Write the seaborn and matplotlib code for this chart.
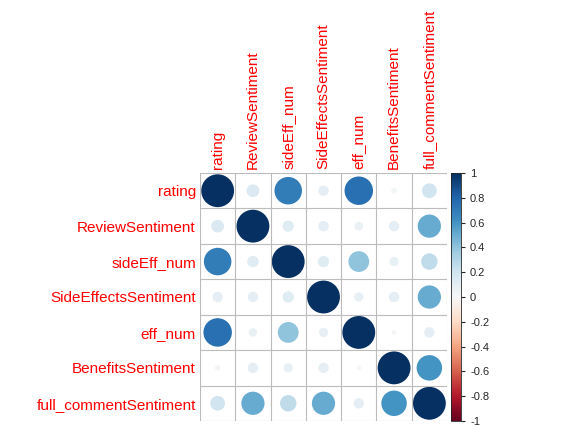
import numpy as np
import matplotlib
matplotlib.use("Agg")
import matplotlib.pyplot as plt
import seaborn as sns

# variables and correlation matrix
names = ['rating', 'ReviewSentiment', 'sideEff_num', 'SideEffectsSentiment',
         'eff_num', 'BenefitsSentiment', 'full_commentSentiment']
upper = [
    [0.15, 0.70, 0.10, 0.75, 0.03, 0.20],
    [0.12, 0.10, 0.07, 0.10, 0.50],
    [0.12, 0.40, 0.08, 0.25],
    [0.08, 0.10, 0.50],
    [0.02, 0.10],
    [0.60],
]

n = len(names)
corr = np.eye(n)
for i, row in enumerate(upper):
    for k, v in enumerate(row):
        j = i + 1 + k
        corr[i, j] = corr[j, i] = v

sns.set_style("white")
plt.rcParams['font.family'] = ['Liberation Sans', 'DejaVu Sans']
fig = plt.figure(figsize=(5.83, 4.26), dpi=100)
ax = fig.add_axes([200/583, 5/426, 247/583, 248/426])
cax = fig.add_axes([451/583, 5/426, 10/583, 248/426])

cmap = plt.get_cmap('RdBu')
xs, ys = np.meshgrid(np.arange(n), np.arange(n))
vals = corr[ys, xs]
sc = ax.scatter(xs.ravel(), ys.ravel(), s=560 * np.abs(vals.ravel()),
                c=vals.ravel(), cmap=cmap, vmin=-1, vmax=1, linewidths=0)

for p in np.arange(-0.5, n, 1):
    ax.axhline(p, color='#bbbbbb', lw=0.8)
    ax.axvline(p, color='#bbbbbb', lw=0.8)
ax.set_xlim(-0.5, n - 0.5)
ax.set_ylim(n - 0.5, -0.5)
for s in ax.spines.values():
    s.set_visible(False)

ax.set_yticks(range(n))
ax.set_yticklabels(names, color='red', fontsize=11)
ax.xaxis.tick_top()
ax.set_xticks(range(n))
ax.set_xticklabels(names, color='red', fontsize=11, rotation=90)
ax.tick_params(length=0, pad=3)

ticks = np.round(np.arange(-1, 1.01, 0.2), 1)
cb = fig.colorbar(sc, cax=cax, ticks=ticks)
cb.ax.set_yticklabels(["0" if abs(t) < 1e-9 else f"{t:g}" for t in ticks], fontsize=8)
cb.ax.tick_params(length=3)
cb.outline.set_linewidth(0.6)

fig.savefig('out.png', dpi=100)
